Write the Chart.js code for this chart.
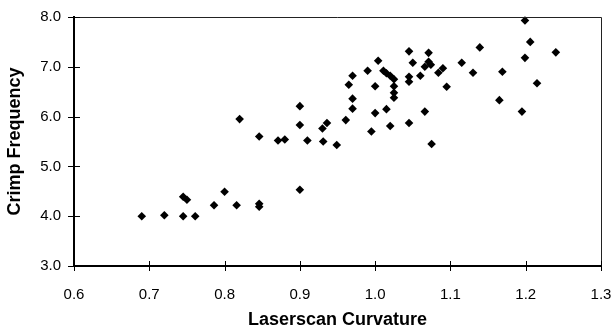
<!DOCTYPE html>
<html>
<head>
<meta charset="utf-8">
<script src="https://cdn.jsdelivr.net/npm/chart.js@4/dist/chart.umd.min.js"></script>
<style>
html,body{margin:0;padding:0;background:#fff;}
#wrap{width:614px;height:334px;position:relative;}
</style>
</head>
<body>
<div id="wrap"><canvas id="c" width="614" height="334"></canvas></div>
<script>
const curvature = [0.690,0.720,0.745,0.761,0.745,0.750,0.786,0.800,0.816,0.846,0.846,0.900,
  0.820,0.846,0.871,0.880,0.900,0.900,0.910,0.930,0.936,0.931,0.949,0.961,0.970,0.970,0.965,0.970,
  0.990,1.000,1.000,0.995,1.004,1.011,1.015,1.020,1.025,1.025,1.025,1.025,1.015,1.020,
  1.045,1.050,1.045,1.045,1.060,1.071,1.066,1.071,1.074,1.084,1.090,1.095,1.066,1.045,1.075,
  1.115,1.130,1.139,1.199,1.206,1.199,1.240,1.169,1.215,1.165,1.195];
const crimp = [4.00,4.02,4.00,4.00,4.39,4.33,4.22,4.49,4.22,4.25,4.19,4.53,
  5.95,5.60,5.52,5.54,6.21,5.83,5.52,5.76,5.87,5.50,5.43,5.93,6.16,6.36,6.64,6.82,
  6.92,6.61,6.07,5.70,7.12,6.92,6.87,6.82,6.75,6.61,6.48,6.38,6.15,5.81,
  7.31,7.08,6.80,6.70,6.82,7.28,7.00,7.10,7.04,6.88,6.97,6.60,6.10,5.87,5.45,
  7.08,6.88,7.39,7.93,7.50,7.18,7.29,6.90,6.67,6.33,6.10];
const xTicks = [0.6,0.7,0.8,0.9,1.0,1.1,1.2,1.3];
const yTicks = [3,4,5,6,7,8];
const xTitle = 'Laserscan Curvature';
const yTitle = 'Crimp Frequency';

const points = curvature.map((x,i)=>({x:x, y:crimp[i]}));

const framePlugin = {
  id:'frame',
  afterDatasetsDraw(chart){
    const {ctx, chartArea:a, scales} = chart;
    ctx.save();
    ctx.strokeStyle = '#222';
    ctx.lineWidth = 1;
    ctx.beginPath();
    ctx.moveTo(a.left, a.top+0.5); ctx.lineTo(a.right+0.5, a.top+0.5);
    ctx.lineTo(a.right+0.5, a.bottom);
    ctx.stroke();
    ctx.strokeStyle = '#000';
    ctx.beginPath();
    xTicks.forEach(v=>{
      const px = Math.round(scales.x.getPixelForValue(v))+0.5;
      ctx.moveTo(px, a.bottom-5); ctx.lineTo(px, a.bottom+5);
    });
    yTicks.forEach(v=>{
      const py = Math.round(scales.y.getPixelForValue(v))+0.5;
      ctx.moveTo(a.left-6, py); ctx.lineTo(a.left+6, py);
    });
    ctx.stroke();
    ctx.restore();
  }
};

const tickFont = {family:'Liberation Sans', size:15};
const titleFont = {family:'Liberation Sans', size:18, weight:'bold'};

new Chart(document.getElementById('c'), {
  type:'scatter',
  data:{datasets:[{data:points, pointStyle:'rectRot', radius:4.3, hoverRadius:4.3,
    backgroundColor:'#000', borderColor:'#000', borderWidth:0, clip:false}]},
  options:{
    responsive:false, animation:false,
    layout:{padding:{top:17,right:13,left:0,bottom:0}},
    plugins:{legend:{display:false}, tooltip:{enabled:false}},
    scales:{
      x:{type:'linear', min:0.6, max:1.3,
        afterBuildTicks(s){ s.ticks = xTicks.map(v=>({value:v})); },
        afterFit(s){ s.height = 68; s.paddingLeft = 0; s.paddingRight = 0; },
        grid:{drawOnChartArea:false, drawTicks:false},
        border:{display:true, color:'#000', width:2},
        ticks:{padding:20, color:'#000', font:tickFont,
          callback:v=>v.toFixed(1), maxRotation:0},
        title:{display:true, text:xTitle, color:'#000', font:titleFont, padding:{top:0,bottom:3}}
      },
      y:{type:'linear', min:3, max:8,
        afterBuildTicks(s){ s.ticks = yTicks.map(v=>({value:v})); },
        afterFit(s){ s.width = 74; s.paddingTop = 0; s.paddingBottom = 0; },
        grid:{drawOnChartArea:false, drawTicks:false},
        border:{display:true, color:'#000', width:2},
        ticks:{padding:13, color:'#000', font:tickFont,
          callback:v=>v.toFixed(1)},
        title:{display:true, text:yTitle, color:'#000', font:titleFont, padding:{top:4,bottom:0}}
      }
    }
  },
  plugins:[framePlugin]
});
</script>
</body>
</html>
